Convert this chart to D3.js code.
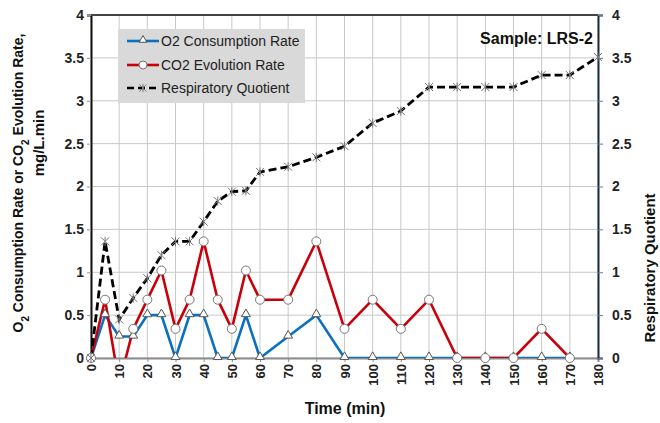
<html>
<head>
<style>
  body { margin: 0; background: #fff; }
  text { font-family: "Liberation Sans Narrow", "Arial Narrow", "Liberation Sans", Arial, sans-serif; }
</style>
</head>
<body>
  <div id = 'chart'></div>
  <script src = 'https://cdnjs.cloudflare.com/ajax/libs/d3/7.8.5/d3.min.js'></script>
  <script>
    var times = [0,5,10,15,20,25,30,35,40,45,50,55,60,70,80,90,100,110,120,130,140,150,160,170],
        o2Rate = [0,0.5,0.25,0.25,0.5,0.5,0,0.5,0.5,0,0,0.5,0,0.25,0.5,0,0,0,0,0,0,0,0,0],
        co2Rate = [0,0.68,-0.3,0.34,0.68,1.02,0.34,0.68,1.36,0.68,0.34,1.02,0.68,0.68,1.36,0.34,0.68,0.34,0.68,0,0,0,0.34,0],
        rqTimes = [0,5,10,15,20,25,30,35,40,45,50,55,60,70,80,90,100,110,120,130,140,150,160,170,180],
        rqValues = [0,1.36,0.45,0.7,0.93,1.2,1.36,1.36,1.59,1.83,1.94,1.95,2.17,2.23,2.34,2.47,2.74,2.88,3.16,3.16,3.16,3.16,3.3,3.3,3.51],
        xTicks = d3.range(0, 181, 10),
        yTicks = d3.range(0, 4.01, 0.5),
        legendNames = ['O2 Consumption Rate', 'CO2 Evolution Rate', 'Respiratory Quotient'];

    var svgWidth = 660, svgHeight = 423,
        plotLeft = 91, plotRight = 598, plotTop = 15, plotBottom = 358;

    var svg = d3.select('#chart').append('svg')
                .attr('width', svgWidth)
                .attr('height', svgHeight);

    var x = d3.scaleLinear().domain([0, 180]).range([plotLeft, plotRight]),
        y = d3.scaleLinear().domain([0, 4]).range([plotBottom, plotTop]),
        y2 = d3.scaleLinear().domain([0, 4]).range([plotBottom, plotTop]);

    // grid
    svg.append('g').selectAll('line').data(xTicks).enter().append('line')
      .attr('x1', d => x(d)).attr('x2', d => x(d))
      .attr('y1', plotTop).attr('y2', plotBottom)
      .attr('stroke', '#c8c8c8').attr('stroke-width', 1);
    svg.append('g').selectAll('line').data(yTicks).enter().append('line')
      .attr('x1', plotLeft).attr('x2', plotRight)
      .attr('y1', d => y(d)).attr('y2', d => y(d))
      .attr('stroke', '#c8c8c8').attr('stroke-width', 1);

    // axes
    var xAxis = svg.append('g').attr('transform', 'translate(0,' + plotBottom + ')')
      .call(d3.axisBottom(x).tickValues(xTicks).tickSize(4).tickFormat(d3.format('d')));
    xAxis.select('.domain').attr('stroke', '#8c8c8c').attr('stroke-width', 2);
    xAxis.selectAll('.tick line').attr('stroke', '#8c8c8c');
    xAxis.selectAll('.tick text')
      .attr('transform', 'rotate(-90)')
      .attr('x', -6).attr('y', 0).attr('dy', '0.35em')
      .attr('text-anchor', 'end')
      .style('font-size', '13px').style('font-weight', 'bold').attr('fill', '#222');

    var yAxis = svg.append('g').attr('transform', 'translate(' + plotLeft + ',0)')
      .call(d3.axisLeft(y).tickValues(yTicks).tickSize(4).tickFormat(d3.format('')));
    yAxis.select('.domain').attr('stroke', '#111').attr('stroke-width', 2);
    yAxis.selectAll('.tick line').attr('stroke', '#999');
    yAxis.selectAll('.tick text').attr('x', -7)
      .style('font-size', '14px').style('font-weight', 'bold').attr('fill', '#222');

    var y2Axis = svg.append('g').attr('transform', 'translate(' + plotRight + ',0)')
      .call(d3.axisRight(y2).tickValues(yTicks).tickSize(5).tickFormat(d3.format('')));
    y2Axis.select('.domain').attr('stroke', '#1c2a48').attr('stroke-width', 2);
    y2Axis.selectAll('.tick line').attr('stroke', '#5a78b0');
    y2Axis.selectAll('.tick text').attr('x', 14)
      .style('font-size', '14px').style('font-weight', 'bold').attr('fill', '#222');

    // top border
    svg.append('line').attr('x1', plotLeft).attr('x2', plotRight).attr('y1', plotTop).attr('y2', plotTop)
      .attr('stroke', '#444').attr('stroke-width', 2);

    svg.append('clipPath').attr('id', 'plotClip').append('rect')
      .attr('x', plotLeft).attr('y', plotTop - 10)
      .attr('width', plotRight - plotLeft + 10).attr('height', plotBottom - plotTop + 10);

    var plot = svg.append('g').attr('clip-path', 'url(#plotClip)');

    var o2Data = times.map((t, i) => [t, o2Rate[i]]),
        co2Data = times.map((t, i) => [t, co2Rate[i]]),
        rqData = rqTimes.map((t, i) => [t, rqValues[i]]);

    var line = d3.line().x(d => x(d[0])).y(d => y(d[1]));
    var line2 = d3.line().x(d => x(d[0])).y(d => y2(d[1]));

    plot.append('path').datum(o2Data).attr('d', line)
      .attr('fill', 'none').attr('stroke', '#0a70c0').attr('stroke-width', 2.6);
    plot.append('path').datum(co2Data).attr('d', line)
      .attr('fill', 'none').attr('stroke', '#c8000a').attr('stroke-width', 2.6);

    var tri = d3.symbol().type(d3.symbolTriangle).size(34);
    svg.append('g').selectAll('path').data(o2Data).enter().append('path')
      .attr('d', tri)
      .attr('transform', d => 'translate(' + x(d[0]) + ',' + (y(d[1]) - 1) + ')')
      .attr('fill', '#fff').attr('stroke', '#555').attr('stroke-width', 1);

    svg.append('g').selectAll('circle').data(co2Data.filter(d => d[1] >= 0)).enter().append('circle')
      .attr('cx', d => x(d[0])).attr('cy', d => y(d[1])).attr('r', 4.5)
      .attr('fill', '#fff').attr('stroke', '#777').attr('stroke-width', 1);

    plot.append('path').datum(rqData).attr('d', line2)
      .attr('fill', 'none').attr('stroke', '#000').attr('stroke-width', 2.8)
      .attr('stroke-dasharray', '8,4');

    var star = svg.append('g').selectAll('g').data(rqData).enter().append('g')
      .attr('transform', d => 'translate(' + x(d[0]) + ',' + y2(d[1]) + ')');
    star.append('path').attr('d', 'M-4,-4L4,4M-4,4L4,-4M0,-4.5L0,4.5')
      .attr('stroke', '#777').attr('stroke-width', 1);

    // legend
    var legend = svg.append('g');
    legend.append('rect').attr('x', 118).attr('y', 29).attr('width', 187).attr('height', 74)
      .attr('fill', '#d9d9d9');
    var rows = [41, 65, 88];
    var colors = ['#0a70c0', '#c8000a', '#000'];
    rows.forEach(function(ry, i) {
      legend.append('line').attr('x1', 127).attr('x2', 159).attr('y1', ry).attr('y2', ry)
        .attr('stroke', colors[i]).attr('stroke-width', 2.6)
        .attr('stroke-dasharray', i == 2 ? '7,4' : null);
      if (i == 0) {
        legend.append('path').attr('d', d3.symbol().type(d3.symbolTriangle).size(26))
          .attr('transform', 'translate(143,' + (ry - 1) + ')')
          .attr('fill', '#fff').attr('stroke', '#555');
      } else if (i == 1) {
        legend.append('circle').attr('cx', 143).attr('cy', ry).attr('r', 4)
          .attr('fill', '#fff').attr('stroke', '#777');
      } else {
        legend.append('path').attr('d', 'M-3.5,-3.5L3.5,3.5M-3.5,3.5L3.5,-3.5M0,-4L0,4')
          .attr('transform', 'translate(143,' + ry + ')')
          .attr('stroke', '#777');
      }
      legend.append('text').attr('x', 161).attr('y', ry).attr('dy', '0.35em')
        .style('font-size', '14px').attr('fill', '#222')
        .text(legendNames[i]);
    });

    // sample label
    svg.append('text').attr('x', 593).attr('y', 44).attr('text-anchor', 'end')
      .style('font-family', '"Liberation Sans", Arial, sans-serif')
      .style('font-size', '16px').style('font-weight', 'bold').attr('fill', '#111')
      .text('Sample: LRS-2');

    // axis titles
    svg.append('text').attr('x', 345).attr('y', 414).attr('text-anchor', 'middle')
      .style('font-size', '16px').style('font-weight', 'bold').attr('fill', '#111')
      .text('Time (min)');

    var lt = svg.append('text').attr('transform', 'translate(23,183) rotate(-90)')
      .attr('text-anchor', 'middle')
      .style('font-size', '14px').style('font-weight', 'bold').attr('fill', '#111');
    lt.append('tspan').text('O');
    lt.append('tspan').attr('baseline-shift', 'sub').style('font-size', '10px').text('2');
    lt.append('tspan').text(' Consumption Rate or CO');
    lt.append('tspan').attr('baseline-shift', 'sub').style('font-size', '10px').text('2');
    lt.append('tspan').text(' Evolution Rate,');

    svg.append('text').attr('transform', 'translate(44,143) rotate(-90)')
      .attr('text-anchor', 'middle')
      .style('font-size', '15px').style('font-weight', 'bold').attr('fill', '#111')
      .text('mg/L.min');

    svg.append('text').attr('transform', 'translate(655,268) rotate(-90)')
      .attr('text-anchor', 'middle')
      .style('font-size', '15px').style('font-weight', 'bold').attr('fill', '#111')
      .text('Respiratory Quotient');
  </script>
</body>
</html>
